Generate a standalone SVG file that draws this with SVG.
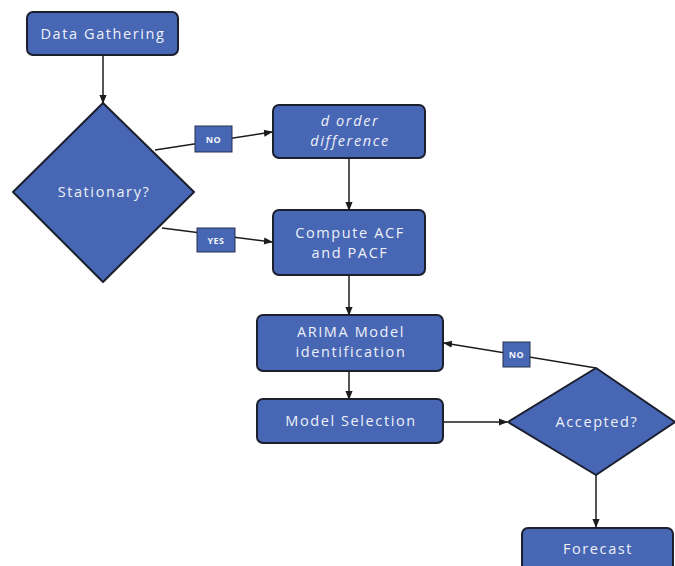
<svg xmlns="http://www.w3.org/2000/svg" width="675" height="566" viewBox="0 0 675 566">
<defs>
<marker id="ah" viewBox="0 0 10 10" refX="9" refY="5" markerWidth="6" markerHeight="6" orient="auto-start-reverse">
<path d="M0,1 L10,5 L0,9 z" fill="#1c1c1c"/>
</marker>
<style>
.box{fill:#4766b4;stroke:#1b1f2e;stroke-width:2}
.lbl{fill:#4766b4;stroke:#26314f;stroke-width:1}
.t{font-family:"Open Sans","Liberation Sans",sans-serif;font-size:14.5px;fill:#eef1f8;text-anchor:middle;letter-spacing:1.6px}
.it{font-style:italic}
.s{font-family:"Open Sans","Liberation Sans",sans-serif;font-size:9px;font-weight:bold;fill:#f2f4fa;text-anchor:middle;letter-spacing:0.5px}
.c{fill:none;stroke:#1c1c1c;stroke-width:1.5;marker-end:url(#ah)}
</style>
</defs>
<rect width="675" height="566" fill="#ffffff"/>
<g id="connectors">
<line class="c" x1="103" y1="55" x2="103" y2="103"/>
<line class="c" x1="155" y1="150" x2="272" y2="132"/>
<line class="c" x1="162" y1="228" x2="272" y2="242"/>
<line class="c" x1="349" y1="158" x2="349" y2="210"/>
<line class="c" x1="349" y1="275" x2="349" y2="315"/>
<line class="c" x1="349" y1="371" x2="349" y2="399"/>
<line class="c" x1="443" y1="422" x2="507" y2="422"/>
<line class="c" x1="596" y1="368" x2="444" y2="343"/>
<line class="c" x1="596" y1="475" x2="596" y2="527"/>
</g>
<g id="lbl-no1"><rect class="lbl" x="195" y="126" width="37" height="26"/><text class="s" x="213.5" y="142.5">NO</text></g>
<g id="lbl-yes"><rect class="lbl" x="197" y="228" width="38" height="24"/><text class="s" x="216" y="243.5">YES</text></g>
<g id="lbl-no2"><rect class="lbl" x="503" y="342" width="27" height="25"/><text class="s" x="516.5" y="358">NO</text></g>
<g id="data-gathering"><rect class="box" x="27" y="12" width="151" height="43" rx="6"/><text class="t" x="103" y="39">Data Gathering</text></g>
<g id="stationary"><path class="box" d="M103,103 L194,192 L103,282 L13,192 Z" stroke-linejoin="round"/><text class="t" x="104" y="197">Stationary?</text></g>
<g id="d-order"><rect class="box" x="273" y="105" width="152" height="53" rx="6"/><text class="t it" x="350" y="126">d order</text><text class="t it" x="350" y="146">difference</text></g>
<g id="acf"><rect class="box" x="273" y="210" width="152" height="65" rx="6"/><text class="t" x="350" y="238">Compute ACF</text><text class="t" x="350" y="258">and PACF</text></g>
<g id="arima"><rect class="box" x="257" y="315" width="186" height="56" rx="6"/><text class="t" x="351" y="337">ARIMA Model</text><text class="t" x="351" y="357">identification</text></g>
<g id="model-selection"><rect class="box" x="257" y="399" width="186" height="44" rx="6"/><text class="t" x="351" y="426">Model Selection</text></g>
<g id="accepted"><path class="box" d="M596,368 L675,422 L596,475 L508,422 Z" stroke-linejoin="round"/><text class="t" x="597" y="427">Accepted?</text></g>
<g id="forecast"><rect class="box" x="522" y="528" width="151" height="50" rx="6"/><text class="t" x="598" y="554">Forecast</text></g>
</svg>
